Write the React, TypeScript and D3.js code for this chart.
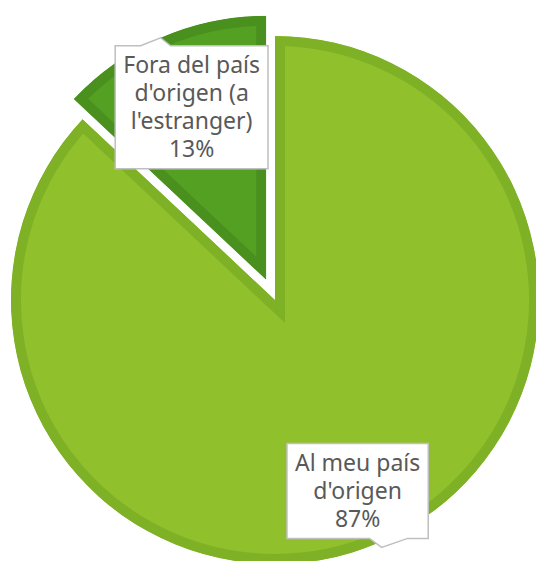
import React, { useEffect, useRef } from "react";
import { arc, pie, select } from "d3";

const categories = ["Al meu país d'origen", "Fora del país d'origen (a l'estranger)"];
const values = [87, 13];
const labelLines = [
  ["Al meu país", "d'origen", "87%"],
  ["Fora del país", "d'origen (a", "l'estranger)", "13%"],
];
const fills = ["#90c02c", "#53a023"];
const borders = ["#7fb126", "#4a901e"];

export default function App() {
  const svgRef = useRef<SVGSVGElement>(null);
  const width = 536;
  const height = 561;
  const cx = 275;
  const cy = 300;
  const radius = 264;
  const explode = [0, 22];
  const labelRadius = [208, 210];
  const lineHeight = 28;

  useEffect(() => {
    const svg = select(svgRef.current);
    svg.selectAll("*").remove();

    const slices = pie<number>().sort(null).value((d) => d)(values);
    const sliceArc = arc<any>().innerRadius(0).outerRadius(radius);

    const g = svg.append("g").attr("transform", `translate(${cx},${cy})`);

    slices.forEach((s, i) => {
      const mid = (s.startAngle + s.endAngle) / 2;
      const dx = Math.sin(mid) * explode[i];
      const dy = -Math.cos(mid) * explode[i];
      const sg = g.append("g").attr("transform", `translate(${dx},${dy})`);
      const id = `clip-${i}`;
      sg.append("clipPath").attr("id", id).append("path").attr("d", sliceArc(s));
      sg.append("path")
        .attr("d", sliceArc(s))
        .attr("fill", fills[i])
        .attr("stroke", borders[i])
        .attr("stroke-width", 20)
        .attr("stroke-linejoin", "miter")
        .attr("clip-path", `url(#${id})`)
        .append("title")
        .text(categories[i]);
    });

    // labels
    slices.forEach((s, i) => {
      const mid = (s.startAngle + s.endAngle) / 2;
      const lx = Math.sin(mid) * labelRadius[i];
      const ly = -Math.cos(mid) * labelRadius[i];
      const lines = labelLines[i];
      const lg = g.append("g").attr("transform", `translate(${lx},${ly})`);
      const box = lg.append("path");
      const txt = lg
        .append("text")
        .attr("text-anchor", "middle")
        .attr("font-family", "'Noto Sans', sans-serif")
        .attr("font-size", 23)
        .attr("fill", "#595959");
      lines.forEach((t, j) => {
        txt.append("tspan")
          .attr("x", 0)
          .attr("y", (j - (lines.length - 1) / 2) * lineHeight)
          .attr("dy", "0.35em")
          .text(t);
      });
      const tw = (txt.node() as SVGTextElement).getBBox().width;
      const w = tw + 16;
      const h = lines.length * lineHeight + 11;
      const x0 = -w / 2;
      const y0 = -h / 2;
      let d = "";
      if (ly < 0) {
        // pointer on top edge
        d = `M${x0},${y0} L${-51},${y0} L${-31},${y0 - 8} L${-21},${y0} L${x0 + w},${y0} L${x0 + w},${y0 + h} L${x0},${y0 + h} Z`;
      } else {
        // pointer on bottom edge
        d = `M${x0},${y0} L${x0 + w},${y0} L${x0 + w},${y0 + h} L${50},${y0 + h} L${24},${y0 + h + 9} L${12},${y0 + h} L${x0},${y0 + h} Z`;
      }
      box.attr("d", d)
        .attr("fill", "#ffffff")
        .attr("stroke", "#bfbfbf")
        .attr("stroke-width", 1.5);
    });
  }, []);

  return (
    <svg
      ref={svgRef}
      width={width}
      height={height}
      style={{ position: "absolute", left: 0, top: 0, background: "#ffffff" }}
    />
  );
}
